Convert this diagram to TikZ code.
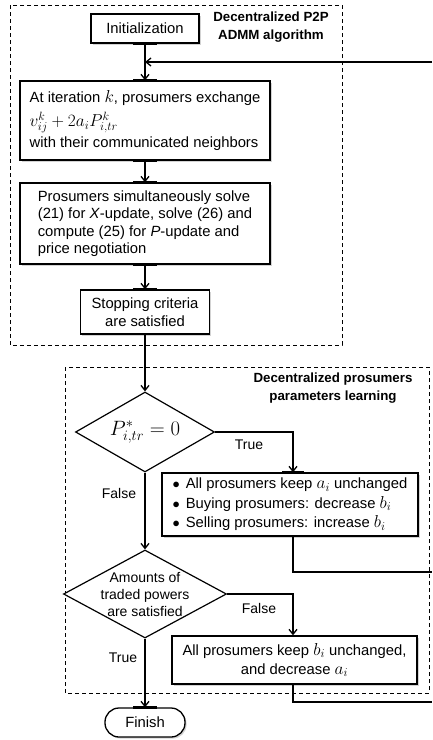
\documentclass[tikz,border=0pt]{standalone}
\usepackage{fontspec}
\setmainfont{Liberation Sans}
\usetikzlibrary{calc}
\usetikzlibrary{arrows.meta}
\usetikzlibrary{shapes.geometric}
\usetikzlibrary{shadows}

\newcommand{\mbig}[1]{{\fontsize{17}{19}\selectfont$#1$}}

\begin{document}
\begin{tikzpicture}[x=1pt,y=-1pt,
  box/.style={draw,black,line width=1.3pt,fill=white,inner sep=0pt,font=\fontsize{14.8}{17.5}\selectfont,
    drop shadow={shadow xshift=1.6pt,shadow yshift=-1.6pt,opacity=0.35}},
  dia/.style={draw,black,diamond,line width=1.2pt,fill=white,inner sep=-12pt,font=\fontsize{14}{17}\selectfont,align=center},
  frame/.style={draw,black,line width=0.9pt,dash pattern=on 4pt off 3pt},
  title/.style={font=\fontsize{13.3}{18}\selectfont\bfseries,align=center},
  lab/.style={font=\fontsize{14}{16}\selectfont},
  arr/.style={black,line width=1.3pt,-{Straight Barb[length=5pt,width=8pt]}},
  wire/.style={black,line width=1.3pt},
  pin/.style={black,line width=2.6pt}]

\useasboundingbox (0,0) rectangle (432,740);

\draw[frame] (10,5) rectangle (342,345);
\draw[frame] (65,367) rectangle (429,693);

\node[title] (t1) at (271,27) {Decentralized P2P\\ADMM algorithm};
\node[title] (t2) at (333,388) {Decentralized prosumers\\parameters learning};

\node[box,minimum width=108,minimum height=29] (init) at (145,28.5) {Initialization};
\node[box,minimum width=250,minimum height=79,align=left] (exch) at (145,120.5)
  {At iteration \mbig{k}, prosumers exchange\\[5pt]{\fontsize{17.5}{20}\selectfont$v_{ij}^k+2a_iP_{i,tr}^k$}\\[3pt]with their communicated neighbors};
\node[box,minimum width=250,minimum height=81,align=left] (solve) at (145,223.5)
  {Prosumers simultaneously solve\\(21) for \textit{X}-update, solve (26) and\\compute (25) for \textit{P}-update and\\price negotiation};
\node[box,minimum width=129,minimum height=44,align=center] (stop) at (145,312) {Stopping criteria\\are satisfied};

\node[dia,minimum width=139,minimum height=80,font=\fontsize{20}{24}\selectfont] (d1) at (145,432) {$P_{i,tr}^*=0$};
\node[box,minimum width=256,minimum height=63,align=left,font=\fontsize{14.8}{19.5}\selectfont] (keepa) at (290,504.5)
  {$\bullet$\hspace{6pt}All prosumers keep \mbig{a_i} unchanged\\$\bullet$\hspace{6pt}Buying prosumers: decrease \mbig{b_i}\\$\bullet$\hspace{6pt}Selling prosumers: increase \mbig{b_i}};
\node[dia,minimum width=163,minimum height=88] (d2) at (145,594) {Amounts of\\traded powers\\are satisfied};
\node[box,minimum width=245,minimum height=48,align=center,font=\fontsize{14.8}{19}\selectfont] (keepb) at (294.5,660)
  {All prosumers keep \mbig{b_i} unchanged,\\and decrease \mbig{a_i}};
\node[box,rounded corners=14pt,minimum width=80,minimum height=29] (fin) at (145,722.5) {Finish};

\coordinate (col) at (293,0);
\coordinate (in1) at (432,62);
\coordinate (out1) at (432,572);
\coordinate (out2) at (432,702);

\draw[arr] (init) -- (exch);
\draw[arr] (in1) -- (in1 -| init.south);
\draw[arr] (exch) -- (solve);
\draw[arr] (solve) -- (stop);
\draw[arr] (stop) -- (d1);
\draw[arr] (d1.east) -| (col |- keepa.north);
\draw[arr] (d1.south) -- (d2.north);
\draw[arr] (d2.east) -| (col |- keepb.north);
\draw[arr] (d2.south) -- (fin.north);
\draw[wire] (col |- keepa.south) |- (out1);
\draw[wire] (col |- keepb.south) |- (out2);

\node[lab] (tr1) at (249,445) {True};
\node[lab] (fa1) at (119,493) {False};
\node[lab] (fa2) at (259,608) {False};
\node[lab] (tr2) at (123,658) {True};

\draw[pin] ([xshift=-12pt]init.south) -- ([xshift=12pt]init.south);
\draw[pin] ([xshift=-12pt]exch.north) -- ([xshift=12pt]exch.north);
\draw[pin] ([xshift=-12pt]exch.south) -- ([xshift=12pt]exch.south);
\draw[pin] ([xshift=-12pt]solve.north) -- ([xshift=12pt]solve.north);
\draw[pin] ([xshift=-12pt]solve.south) -- ([xshift=12pt]solve.south);
\draw[pin] ([xshift=-12pt]stop.north) -- ([xshift=12pt]stop.north);
\draw[pin] ([xshift=-12pt]fin.north) -- ([xshift=12pt]fin.north);
\draw[pin] ($(col |- keepa.north)+(-11,0)$) -- ($(col |- keepa.north)+(11,0)$);
\draw[pin] ($(col |- d1.east)+(-11,0)$) -- (col |- d1.east);
\draw[pin] ($(col |- d2.east)+(-11,0)$) -- (col |- d2.east);

\end{tikzpicture}
\end{document}
